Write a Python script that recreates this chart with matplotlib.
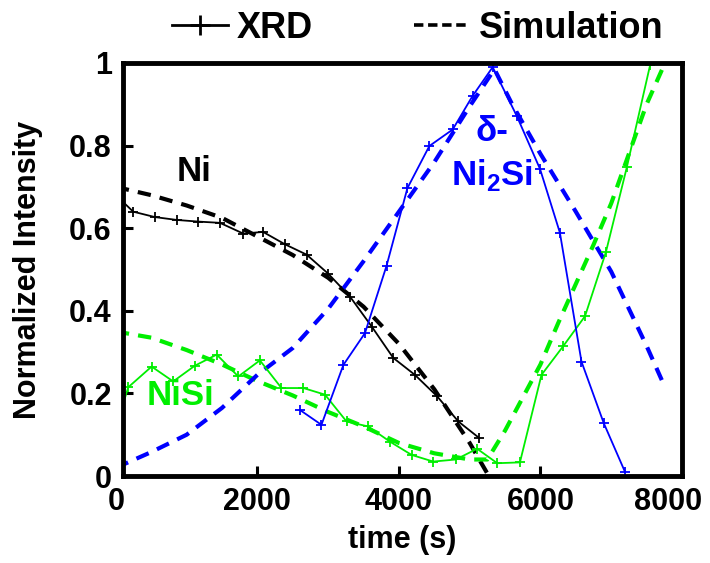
import matplotlib
matplotlib.use('Agg')
import matplotlib.pyplot as plt
from matplotlib.lines import Line2D
from matplotlib.transforms import ScaledTranslation

plt.rcParams['font.family'] = ['Liberation Sans', 'DejaVu Sans']
plt.rcParams['font.weight'] = 'bold'
plt.rcParams['mathtext.fontset'] = 'custom'
plt.rcParams['mathtext.rm'] = 'Liberation Sans:bold'
plt.rcParams['mathtext.bf'] = 'Liberation Sans:bold'

# Ni (XRD + simulation)
ni_xrd_t = [0, 245, 550, 860, 1165, 1470, 1800, 2080, 2390, 2695, 3000, 3310,
            3615, 3920, 4225, 4540, 4840, 5135]
ni_xrd_v = [0.68, 0.640, 0.627, 0.620, 0.616, 0.613, 0.587, 0.591, 0.561, 0.536,
            0.490, 0.434, 0.362, 0.286, 0.245, 0.193, 0.132, 0.092]
ni_sim_t = [0, 500, 1000, 1500, 2000, 2500, 3000, 3500, 4000, 4500, 5000, 5270]
ni_sim_v = [0.70, 0.68, 0.655, 0.625, 0.58, 0.535, 0.48, 0.41, 0.32, 0.21, 0.08, 0.0]

# NiSi
nisi_xrd_t = [0, 175, 505, 810, 1115, 1425, 1730, 2035, 2340, 2650, 2955, 3260,
              3565, 3875, 4180, 4485, 4805, 5105, 5390, 5710, 6015, 6320, 6630,
              6925, 7220, 7550]
nisi_xrd_v = [0.12, 0.215, 0.265, 0.229, 0.267, 0.294, 0.241, 0.280, 0.213, 0.213,
              0.197, 0.132, 0.120, 0.083, 0.051, 0.035, 0.040, 0.066, 0.031, 0.033,
              0.245, 0.314, 0.387, 0.542, 0.747, 0.995]
nisi_sim_t = [0, 500, 1000, 1500, 2000, 2500, 3000, 3500, 4000, 4500, 5000, 5250,
              5500, 5750, 6000, 6250, 6500, 6750, 7000, 7250, 7500, 7760]
nisi_sim_v = [0.35, 0.335, 0.305, 0.27, 0.23, 0.195, 0.155, 0.12, 0.08, 0.055, 0.04,
              0.04, 0.11, 0.19, 0.27, 0.37, 0.465, 0.56, 0.66, 0.78, 0.9, 1.0]

# delta-Ni2Si
ni2si_xrd_t = [2600, 2905, 3215, 3520, 3825, 4120, 4430, 4760, 5040, 5325, 5665,
               5995, 6275, 6580, 6895, 7195]
ni2si_xrd_v = [0.160, 0.124, 0.269, 0.346, 0.509, 0.697, 0.799, 0.839, 0.920, 0.99,
               0.872, 0.743, 0.589, 0.277, 0.128, 0.01]
ni2si_sim_t = [0, 500, 1000, 1500, 2000, 2500, 3000, 3500, 4000, 4500, 5000, 5350,
               5600, 6000, 6500, 7000, 7500, 7760]
ni2si_sim_v = [0.02, 0.058, 0.10, 0.165, 0.245, 0.31, 0.405, 0.52, 0.64, 0.76, 0.895,
               0.985, 0.90, 0.78, 0.64, 0.495, 0.315, 0.215]

xticks = [2000, 4000, 6000, 8000]
yticks = [0, 0.2, 0.4, 0.6, 0.8, 1]
ytick_labels = ['0', '0.2', '0.4', '0.6', '0.8', '1']

GREEN = '#00ee00'
BLUE = '#0000ff'
FS = 22

fig = plt.figure(figsize=(7.1, 5.63), dpi=100)
ax = fig.add_axes([0.1732, 0.1545, 0.7873, 0.7336])

xrd_kw = dict(lw=1.3, marker='+', ms=7, mew=1.3)
sim_kw = dict(lw=3, dashes=(3.2, 2.2))

ax.plot(ni_sim_t, ni_sim_v, color='k', **sim_kw)
ax.plot(nisi_sim_t, nisi_sim_v, color=GREEN, **sim_kw)
ax.plot(ni2si_sim_t, ni2si_sim_v, color=BLUE, **sim_kw)
ax.plot(ni_xrd_t, ni_xrd_v, color='k', **xrd_kw)
ax.plot(nisi_xrd_t, nisi_xrd_v, color=GREEN, **xrd_kw)
ax.plot(ni2si_xrd_t, ni2si_xrd_v, color=BLUE, **xrd_kw)

ax.set_xlim(100, 8000)
ax.set_ylim(0, 1)
ax.set_xticks(xticks)
ax.set_xticklabels([str(t) for t in xticks])
ax.set_yticks(yticks)
ax.set_yticklabels(ytick_labels)
ax.tick_params(direction='in', length=7, width=2.2, labelsize=FS, pad=8)
for s in ax.spines.values():
    s.set_linewidth(3.5)
# last label is pulled in a little so it stays on the canvas
last = ax.get_xticklabels()[-1]
last.set_transform(last.get_transform() + ScaledTranslation(-10 / 72, 0, fig.dpi_scale_trans))
# the "0" of the time axis sits just left of the plotted range
ax.annotate('0', xy=(0, 0), xycoords=('data', 'axes fraction'), xytext=(0, -8),
            textcoords='offset points', ha='center', va='top', fontsize=FS,
            fontweight='bold', annotation_clip=False)

ax.set_xlabel('time (s)', fontsize=FS, fontweight='bold', labelpad=6)
ax.set_ylabel('Normalized Intensity', fontsize=FS, fontweight='bold', labelpad=19)

ax.text(1100, 0.737, 'Ni', color='k', fontsize=25, fontweight='bold', ha='center', va='center')
ax.text(920, 0.194, 'NiSi', color=GREEN, fontsize=25, fontweight='bold', ha='center', va='center')
ax.text(5310, 0.834, 'δ-', color=BLUE, fontsize=25, fontweight='bold', ha='center', va='center')
ax.text(5314, 0.728, r'Ni$_{2}$Si', color=BLUE, fontsize=25, fontweight='bold', ha='center', va='center')

handles = [Line2D([], [], color='k', lw=2, marker='+', ms=14, mew=2),
           Line2D([], [], color='k', lw=2.6, dashes=(2.6, 1.3))]
fig.legend(handles, ['XRD', 'Simulation'], loc='center', bbox_to_anchor=(0.588, 0.95),
           ncol=2, frameon=False, handlelength=1.55, handletextpad=0.25, columnspacing=2.8,
           prop={'weight': 'bold', 'size': 26})

fig.savefig('out.png', dpi=100)
